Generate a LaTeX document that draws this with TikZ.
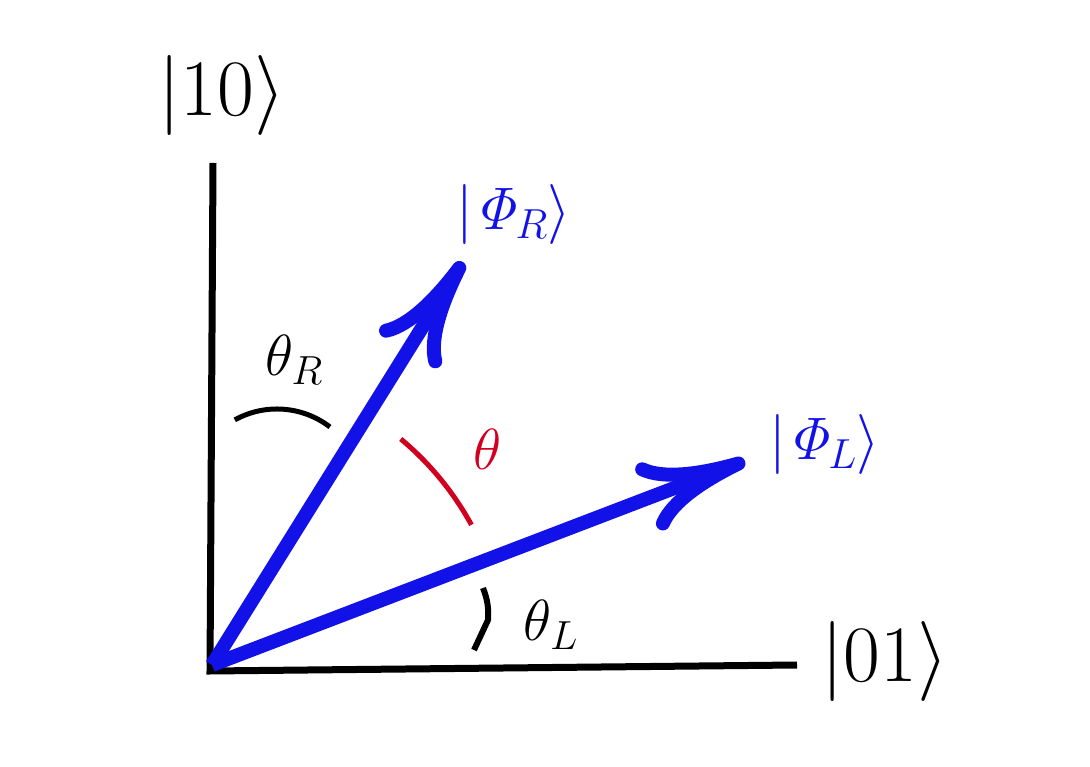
\RequirePackage{fix-cm}
\documentclass[tikz,border=0pt]{standalone}
\usetikzlibrary{arrows.meta}
\definecolor{vecblue}{RGB}{18,18,232}
\definecolor{angred}{RGB}{208,0,30}
\begin{document}
\begin{tikzpicture}[x=1pt,y=1pt,
  axis/.style={line width=7pt},
  vec/.style={draw=vecblue, line width=14pt, -{Computer Modern Rightarrow[length=106pt,width=72pt]}},
  angarc/.style={line width=5pt},
  biglabel/.style={font=\fontsize{80}{90}\selectfont, inner sep=0pt},
  veclabel/.style={text=vecblue, font=\fontsize{60}{66}\selectfont, inner sep=0pt},
  anglabel/.style={font=\fontsize{58}{66}\selectfont, inner sep=0pt}]
\useasboundingbox (0,0) rectangle (1090,766);
\fill[white] (0,0) rectangle (1090,766);
\coordinate (ytop) at (213,603);
\coordinate (corner) at (210,95);
\coordinate (xend) at (797,101);
\coordinate (vo) at (212,101);
\coordinate (tipR) at (463,504);
\coordinate (tipL) at (745,305);
% axes
\draw[axis] (ytop) -- (corner) -- (xend);
% labels of axes
\node[biglabel] (k10) at (222,670) {$|10\rangle$};
\node[biglabel] (k01) at (885,104) {$|01\rangle$};
% vectors
\draw[vec] (vo) -- (tipR);
\draw[vec] (vo) -- (tipL);
\node[veclabel] (phiR) at (514,551) {$|\mathit{\Phi}_R\rangle$};
\node[veclabel] (phiL) at (825,321) {$|\mathit{\Phi}_L\rangle$};
% angles
\draw[angarc] (234.8,346.1) arc[start angle=119, end angle=52.5, radius=87];
\node[anglabel] (thR) at (294,406) {$\theta_R$};
\draw[angarc, draw=angred] (400.8,327) arc[start angle=50.2, end angle=28.7, radius=298];
\node[anglabel, text=angred] (th) at (488,317) {$\theta$};
\draw[line width=6pt] (483,178) to[bend left=12] (488,146) -- (474,116);
\node[anglabel] (thL) at (551,141) {$\theta_L$};
\end{tikzpicture}
\end{document}
